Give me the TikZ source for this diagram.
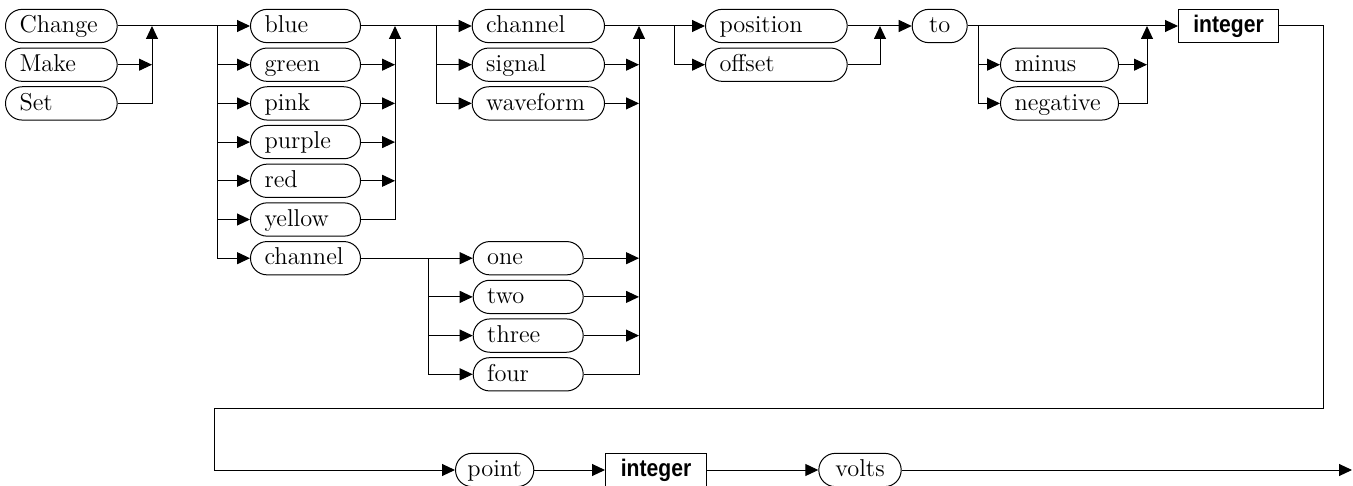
\documentclass[tikz,border=0pt]{standalone}
\usepackage{fontspec}
\usetikzlibrary{arrows.meta}
\newfontfamily\intfont{Liberation Sans}[FakeStretch=0.88]
\begin{document}
\begin{tikzpicture}[x=0.5pt,y=-0.5pt, line width=0.5pt,
  term/.style={draw, rectangle, rounded corners=8.3pt, minimum height=16.65pt,
    inner xsep=7pt, inner ysep=0pt, text height=9.5pt, text depth=2.8pt,
    align=left, anchor=west, font=\fontsize{12.2}{14}\selectfont},
  termc/.style={term, align=center, inner xsep=3pt},
  nonterm/.style={draw, rectangle, minimum height=16.65pt, inner sep=0pt,
    text height=9.5pt, text depth=2.8pt, anchor=west,
    font=\intfont\bfseries\fontsize{12}{14}\selectfont},
  arr/.style={-{Triangle[length=6.5pt,width=6pt]}}]
\useasboundingbox (0,0) rectangle (1353,486);
% column 1
\node[term, text width=41.85pt] (Change) at (5,26) {Change};
\node[term, text width=41.85pt] (Make) at (5,64.7) {Make};
\node[term, text width=41.85pt] (Set) at (5,103.4) {Set};
% column 2
\node[term, text width=41pt] (blue) at (250,26) {blue};
\node[term, text width=41pt] (green) at (250,64.7) {green};
\node[term, text width=41pt] (pink) at (250,103.4) {pink};
\node[term, text width=41pt] (purple) at (250,142.1) {purple};
\node[term, text width=41pt] (red) at (250,180.8) {red};
\node[term, text width=41pt] (yellow) at (250,219.5) {yellow};
\node[term, text width=41pt] (chB) at (250,258.2) {channel};
% column 3
\node[term, text width=52.15pt] (chan) at (471.7,26) {channel};
\node[term, text width=52.15pt] (signal) at (471.7,64.7) {signal};
\node[term, text width=52.15pt] (wave) at (471.7,103.4) {waveform};
\node[term, text width=41pt] (one) at (472.7,258.2) {one};
\node[term, text width=41pt] (two) at (472.7,296.9) {two};
\node[term, text width=41pt] (three) at (472.7,335.6) {three};
\node[term, text width=41pt] (four) at (472.7,374.3) {four};
% column 4
\node[term, text width=56.85pt] (position) at (705,26) {position};
\node[term, text width=56.85pt] (offset) at (705,64.7) {offset};
\node[termc, minimum width=27.5pt] (to) at (911.7,26) {to};
\node[term, text width=45pt] (minus) at (1000,64.7) {minus};
\node[term, text width=45pt] (negative) at (1000,103.4) {negative};
\node[nonterm, minimum width=50pt] (intA) at (1178,26) {integer};
% bottom row
\node[termc, minimum width=39.15pt] (point) at (455,470) {point};
\node[nonterm, minimum width=50.5pt] (intB) at (605,470) {integer};
\node[termc, minimum width=41.2pt] (volts) at (818.3,470) {volts};
% junction coordinates
\coordinate (j1) at (152,26);
\coordinate (s1) at (217,26);
\coordinate (j2) at (395,26);
\coordinate (s2) at (436,26);
\coordinate (s2b) at (428,258.2);
\coordinate (j3) at (639,26);
\coordinate (s3) at (674,26);
\coordinate (j4) at (880,26);
\coordinate (s5) at (978.3,26);
\coordinate (j5) at (1147,26);
\coordinate (c0) at (1323,26);
\coordinate (c1) at (214,408.3);
\coordinate (fin) at (1352,470);
% group 1
\draw (Change.east) -- (s1);
\draw[arr] (Make.east) -- (Make.east -| j1);
\draw[arr] (Set.east) -| (j1);
% group 2
\foreach \n in {blue,green,pink,purple,red,yellow,chB}
  \draw[arr] (s1) |- (\n.west);
\draw (blue.east) -- (s2);
\foreach \n in {green,pink,purple,red}
  \draw[arr] (\n.east) -- (\n.east -| j2);
\draw[arr] (yellow.east) -| (j2);
% group 3
\foreach \n in {chan,signal,wave}
  \draw[arr] (s2) |- (\n.west);
\draw (chB.east) -- (s2b);
\foreach \n in {one,two,three,four}
  \draw[arr] (s2b) |- (\n.west);
\draw (chan.east) -- (s3);
\foreach \n in {signal,wave,one,two,three}
  \draw[arr] (\n.east) -- (\n.east -| j3);
\draw[arr] (four.east) -| (j3);
% group 4
\draw[arr] (s3) |- (position.west);
\draw[arr] (s3) |- (offset.west);
\draw[arr] (position.east) -- (to.west);
\draw[arr] (offset.east) -| (j4);
% group 5
\draw[arr] (to.east) -- (intA.west);
\draw[arr] (s5) |- (minus.west);
\draw[arr] (s5) |- (negative.west);
\draw[arr] (minus.east) -- (minus.east -| j5);
\draw[arr] (negative.east) -| (j5);
% loop and bottom row
\draw[arr] (intA.east) -- (c0) |- (c1) |- (point.west);
\draw[arr] (point.east) -- (intB.west);
\draw[arr] (intB.east) -- (volts.west);
\draw[arr] (volts.east) -- (fin);
\end{tikzpicture}
\end{document}
